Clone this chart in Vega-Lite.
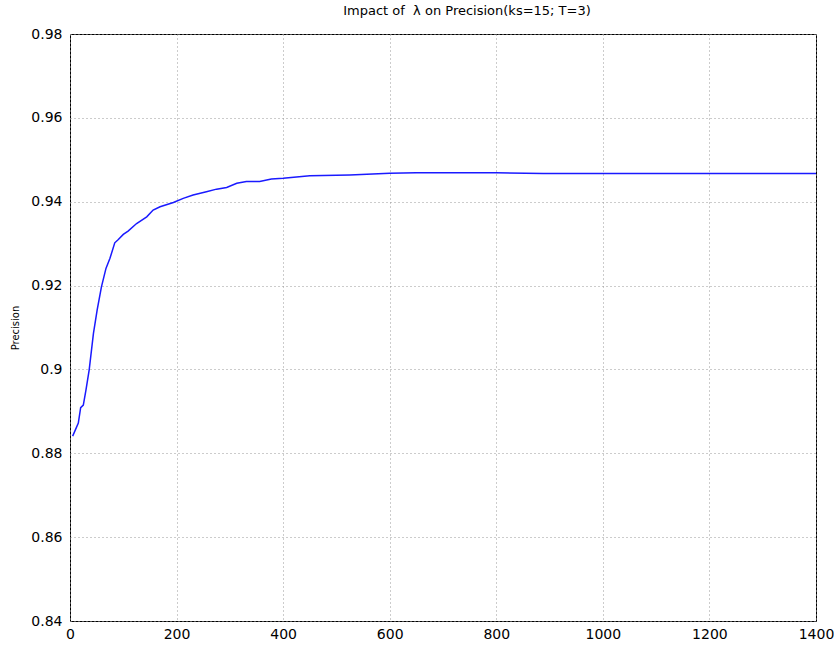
{
  "$schema": "https://vega.github.io/schema/vega-lite/v6.json",
  "width": 746,
  "height": 587,
  "autosize": "none",
  "padding": {"left": 70, "top": 34, "right": 18, "bottom": 25},
  "background": "white",
  "title": {
    "text": "Impact of \u00a0λ on Precision(ks=15; T=3)",
    "font": "DejaVu Sans",
    "fontSize": 13,
    "fontWeight": "normal",
    "color": "black",
    "offset": 9,
    "dx": 24
  },
  "config": {
    "view": {"stroke": "black", "strokeWidth": 1},
    "axis": {
      "labelFont": "DejaVu Sans",
      "labelFontSize": 14,
      "labelColor": "black",
      "titleFont": "DejaVu Sans",
      "titleFontWeight": "normal",
      "titleColor": "black",
      "grid": true,
      "gridColor": "#999999",
      "gridDash": [1, 3],
      "gridWidth": 1,
      "domain": false,
      "tickSize": 0
    }
  },
  "data": {
    "values": [
      {"lambda": 5, "precision": 0.8841},
      {"lambda": 15.6, "precision": 0.8872},
      {"lambda": 20, "precision": 0.8909},
      {"lambda": 25, "precision": 0.8915},
      {"lambda": 30, "precision": 0.8951},
      {"lambda": 36, "precision": 0.8999},
      {"lambda": 44, "precision": 0.9086},
      {"lambda": 51, "precision": 0.9142},
      {"lambda": 59, "precision": 0.9197},
      {"lambda": 67.5, "precision": 0.9241},
      {"lambda": 75, "precision": 0.9265},
      {"lambda": 84, "precision": 0.9302},
      {"lambda": 90.7, "precision": 0.931},
      {"lambda": 100, "precision": 0.9322},
      {"lambda": 109, "precision": 0.933},
      {"lambda": 125, "precision": 0.9348},
      {"lambda": 144, "precision": 0.9364},
      {"lambda": 156, "precision": 0.938},
      {"lambda": 169, "precision": 0.9388},
      {"lambda": 194, "precision": 0.9398},
      {"lambda": 212.5, "precision": 0.9408},
      {"lambda": 231, "precision": 0.9416},
      {"lambda": 256, "precision": 0.9424},
      {"lambda": 275, "precision": 0.943},
      {"lambda": 294, "precision": 0.9434},
      {"lambda": 313, "precision": 0.9444},
      {"lambda": 331, "precision": 0.9448},
      {"lambda": 356, "precision": 0.9448},
      {"lambda": 378, "precision": 0.9454},
      {"lambda": 400, "precision": 0.9456},
      {"lambda": 450, "precision": 0.9462},
      {"lambda": 525, "precision": 0.9464},
      {"lambda": 600, "precision": 0.9468},
      {"lambda": 650, "precision": 0.9469},
      {"lambda": 800, "precision": 0.9469},
      {"lambda": 888, "precision": 0.9467},
      {"lambda": 1000, "precision": 0.9467},
      {"lambda": 1200, "precision": 0.9467},
      {"lambda": 1400, "precision": 0.9467}
    ]
  },
  "mark": {"type": "line", "color": "#1a1aff", "strokeWidth": 1.5, "clip": true},
  "encoding": {
    "x": {
      "field": "lambda",
      "type": "quantitative",
      "scale": {"domain": [0, 1400], "nice": false, "zero": false},
      "axis": {"title": null, "values": [0, 200, 400, 600, 800, 1000, 1200, 1400], "format": "d", "labelPadding": 6, "labelFlush": false}
    },
    "y": {
      "field": "precision",
      "type": "quantitative",
      "scale": {"domain": [0.84, 0.98], "nice": false, "zero": false},
      "axis": {
        "title": "Precision",
        "titleFontSize": 10,
        "titlePadding": 10,
        "values": [0.84, 0.86, 0.88, 0.9, 0.92, 0.94, 0.96, 0.98],
        "labelExpr": "format(datum.value, '.2~f')",
        "labelPadding": 8,
        "labelFlush": false
      }
    }
  }
}
